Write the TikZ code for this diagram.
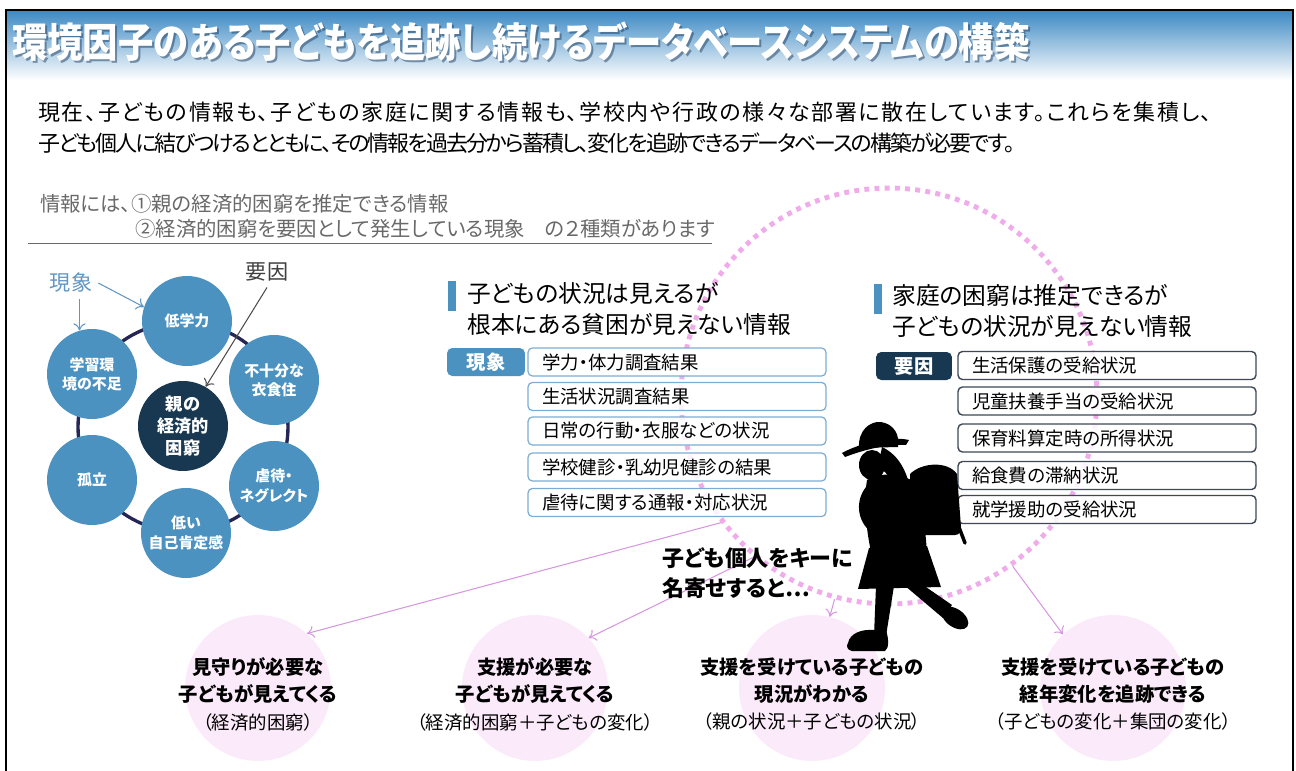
\documentclass[tikz,border=0pt]{standalone}
\usepackage{fontspec}
\setmainfont{Noto Sans CJK JP}[RawFeature=+palt]
\usetikzlibrary{arrows.meta}

\definecolor{titleblue}{RGB}{62,138,196}
\definecolor{titleshade}{RGB}{30,60,95}
\definecolor{notegray}{RGB}{105,105,105}
\definecolor{phenblue}{RGB}{76,146,193}
\definecolor{phenlabel}{RGB}{95,150,195}
\definecolor{causenavy}{RGB}{24,56,82}
\definecolor{ringnavy}{RGB}{38,38,84}
\definecolor{boxblue}{RGB}{125,172,210}
\definecolor{boxgray}{RGB}{62,72,86}
\definecolor{dotpink}{RGB}{240,172,234}
\definecolor{linepink}{RGB}{214,150,224}
\definecolor{bubblepink}{RGB}{251,234,250}

\tikzset{
  titletext/.style={anchor=west, inner sep=0pt, font=\bfseries\fontsize{20.1}{22}\selectfont},
  intro/.style={anchor=west, inner sep=0pt, font=\fontsize{12.5}{15}\selectfont},
  note/.style={anchor=west, inner sep=0pt, text=notegray, font=\fontsize{11.6}{13}\selectfont},
  disc/.style={circle, minimum size=1.8cm, inner sep=0pt, align=center, text=white},
  phen/.style={disc, fill=phenblue, font=\bfseries\fontsize{8.5}{11}\selectfont},
  core/.style={disc, fill=causenavy, font=\bfseries\fontsize{9.8}{12.5}\selectfont},
  thinarrow/.style={-{To[length=4pt,width=7pt]}, line width=0.6pt},
  bar/.style={minimum width=0.16cm, minimum height=0.6cm, inner sep=0pt},
  head/.style={anchor=west, align=left, inner sep=0pt, font=\fontsize{13.5}{18}\selectfont},
  tag/.style={rounded corners=3pt, minimum height=0.56cm, inner sep=0pt, text=white,
    font=\bfseries\fontsize{11}{12}\selectfont},
  item/.style={draw, rounded corners=2.5pt, fill=white, fill opacity=.85, text opacity=1,
    minimum height=0.56cm, text width=5.4cm, inner xsep=0.28cm, inner ysep=0pt,
    align=left, font=\fontsize{10.5}{12}\selectfont},
  bubble/.style={circle, fill=bubblepink, minimum size=2.92cm, inner sep=0pt},
  bubtext/.style={align=center, inner sep=0pt, font=\fontsize{11}{15.6}\selectfont},
  pinkarrow/.style={thinarrow, draw=linepink},
}
\newcommand\sub[1]{{\fontsize{10.5}{15.6}\selectfont #1}}

\begin{document}
\begin{tikzpicture}[x=0.02cm, y=-0.02cm]
\useasboundingbox (0,0) rectangle (1296,771);

% heading band
\shade[top color=titleblue, bottom color=white] (7,11) rectangle (1292,80);
\node[titletext, text=titleshade, opacity=.5] (titleshadow) at (14,44)
  {\scalebox{1}[1.15]{環境因子のある子どもを追跡し続けるデータベースシステムの構築}};
\node[titletext, text=white] (title) at (12,42)
  {\scalebox{1}[1.15]{環境因子のある子どもを追跡し続けるデータベースシステムの構築}};
\draw[line width=1.4pt] (6,771) -- (6,10) -- (1293,10) -- (1293,771);

\node[intro] (intro1) at (38,112) {\addfontfeature{LetterSpace=7.5}現在、子どもの情報も、子どもの家庭に関する情報も、学校内や行政の様々な部署に散在しています。これらを集積し、};
\node[intro] (intro2) at (38,143) {\addfontfeature{LetterSpace=-9}子ども個人に結びつけるとともに、その情報を過去分から蓄積し、変化を追跡できるデータベースの構築が必要です。};

\node[note] (note1) at (40,204) {情報には、①親の経済的困窮を推定できる情報};
\node[note] (note2) at (135,229) {②経済的困窮を要因として発生している現象　の２種類があります};
\draw[notegray, line width=0.5pt] (28,243) -- (712,243);

% dotted ring
\node[circle, minimum size=8.32cm, inner sep=0pt, draw=dotpink, line width=2.8pt,
  dash pattern=on 2.8pt off 3pt] (ring) at (889,396) {};

% left: causes and phenomena
\node[circle, minimum size=4.2cm, inner sep=0pt, draw=ringnavy, line width=1.9pt] (hexring) at (183,427) {};
\node[core] (c0) at (183,426) {親の\\経済的\\困窮};
\node[phen] (c1) at (187,321) {低学力};
\node[phen] (c2) at (274,380) {不十分な\\衣食住};
\node[phen] (c3) at (274,486) {虐待・\\ネグレクト};
\node[phen] (c4) at (186,533) {低い\\自己肯定感};
\node[phen] (c5) at (92,480) {孤立};
\node[phen] (c6) at (92,374) {学習環\\境の不足};

\node[text=phenlabel, font=\fontsize{12}{14}\selectfont] (lblphen) at (71,283) {現象};
\node[text=black!75, font=\fontsize{12}{14}\selectfont] (lblcause) at (267,272) {要因};
\draw[thinarrow, phenlabel] (lblphen.east) -- (c1.162);
\draw[thinarrow, phenlabel] (lblphen.south -| c6.106) -- (c6.106);
\draw[thinarrow, black!70] (lblcause.south) -- (c0.60);

% middle: phenomena data
\node[bar, fill=phenblue] (barL) at (452,296) {};
\node[head] (headL) at (467,309) {子どもの状況は見えるが\\根本にある貧困が見えない情報};
\node[tag, fill=phenblue, minimum width=1.56cm] (tagL) at (486,362) {現象};
\node[item, draw=boxblue, line width=0.7pt] (p1) at (677,362) {学力・体力調査結果};
\node[item, draw=boxblue, line width=0.7pt] (p2) at (677,396.5) {生活状況調査結果};
\node[item, draw=boxblue, line width=0.7pt] (p3) at (677,431) {日常の行動・衣服などの状況};
\node[item, draw=boxblue, line width=0.7pt] (p4) at (677,467) {学校健診・乳幼児健診の結果};
\node[item, draw=boxblue, line width=0.7pt] (p5) at (677,502.5) {虐待に関する通報・対応状況};

% right: cause data
\node[bar, fill=phenblue] (barR) at (878,299) {};
\node[head] (headR) at (892,311) {家庭の困窮は推定できるが\\子どもの状況が見えない情報};
\node[tag, fill=causenavy, minimum width=1.52cm] (tagR) at (914,366) {要因};
\node[item, draw=boxgray, line width=0.8pt] (f1) at (1107,365.5) {生活保護の受給状況};
\node[item, draw=boxgray, line width=0.8pt] (f2) at (1107,401) {児童扶養手当の受給状況};
\node[item, draw=boxgray, line width=0.8pt] (f3) at (1107,438) {保育料算定時の所得状況};
\node[item, draw=boxgray, line width=0.8pt] (f4) at (1107,475.5) {給食費の滞納状況};
\node[item, draw=boxgray, line width=0.8pt] (f5) at (1107,509.5) {就学援助の受給状況};

% results
\node[bubble] (b1) at (258,688) {};
\node[bubble] (b2) at (535,688) {};
\node[bubble] (b3) at (812,688) {};
\node[bubble] (b4) at (1113,688) {};

\draw[pinkarrow] (ring.217) -- (b1.48);
\draw[pinkarrow] (ring.230) -- (b2.43);
\draw[pinkarrow] (ring.255) -- (b3.76);
\draw[pinkarrow] (ring.306) -- (b4.133);

% walking girl
\begin{scope}[fill=black]
\fill (859,448) .. controls (858,430) and (870,421) .. (881,422)
  .. controls (894,424) and (900,435) .. (898,447) -- cycle;
\fill (842,453) .. controls (862,442) and (892,436) .. (909,440)
  -- (906,445) .. controls (888,444) and (866,449) .. (845,457) -- cycle;
\fill (872,465) ellipse [x radius=13, y radius=15];
\fill (882,447) .. controls (899,455) and (908,472) .. (912,497)
  -- (899,499) .. controls (895,482) and (887,472) .. (878,467) -- cycle;
\fill (867,480) .. controls (880,472) and (902,473) .. (914,482)
  .. controls (922,505) and (926,530) .. (927,556) -- (872,556)
  .. controls (867,535) and (863,505) .. (867,480) -- cycle;
\fill (866,487) .. controls (855,501) and (857,521) .. (871,532)
  -- (880,526) .. controls (872,516) and (872,501) .. (877,490) -- cycle;
\fill (910,474) .. controls (922,462) and (948,461) .. (957,474)
  -- (961,527) .. controls (961,532) and (959,535) .. (955,535)
  -- (917,535) .. controls (913,535) and (911,532) .. (911,528) -- cycle;
\draw[line width=2pt, line cap=round] (957,522) -- (965,543);
\fill (869,548) -- (927,546) -- (941,587) -- (858,589) -- cycle;
\fill (876,586) -- (894,586) -- (886,636) -- (874,636) -- cycle;
\fill (848,643) .. controls (850,633) and (862,629) .. (874,630) -- (886,630)
  .. controls (889,640) and (889,648) .. (885,651) -- (852,651)
  .. controls (847,650) and (846,646) .. (848,643) -- cycle;
\fill (904,585) -- (923,585) -- (952,605) -- (943,618) -- cycle;
\fill[rotate around={-35:(955,618)}] (955,618) ellipse [x radius=15, y radius=9];
\end{scope}

\node[anchor=west, align=left, inner sep=0pt, font=\bfseries\fontsize{12.5}{17}\selectfont]
  (key) at (662,573) {子ども個人をキーに\\名寄せすると…};

\node[bubtext] (t1) at (258,694) {\textbf{見守りが必要な}\\\textbf{子どもが見えてくる}\\\sub{（経済的困窮）}};
\node[bubtext] (t2) at (535,694) {\textbf{支援が必要な}\\\textbf{子どもが見えてくる}\\\sub{（経済的困窮＋子どもの変化）}};
\node[bubtext] (t3) at (812,694) {\textbf{支援を受けている子どもの}\\\textbf{現況がわかる}\\\sub{（親の状況＋子どもの状況）}};
\node[bubtext] (t4) at (1113,694) {\textbf{支援を受けている子どもの}\\\textbf{経年変化を追跡できる}\\\sub{（子どもの変化＋集団の変化）}};

\end{tikzpicture}
\end{document}
